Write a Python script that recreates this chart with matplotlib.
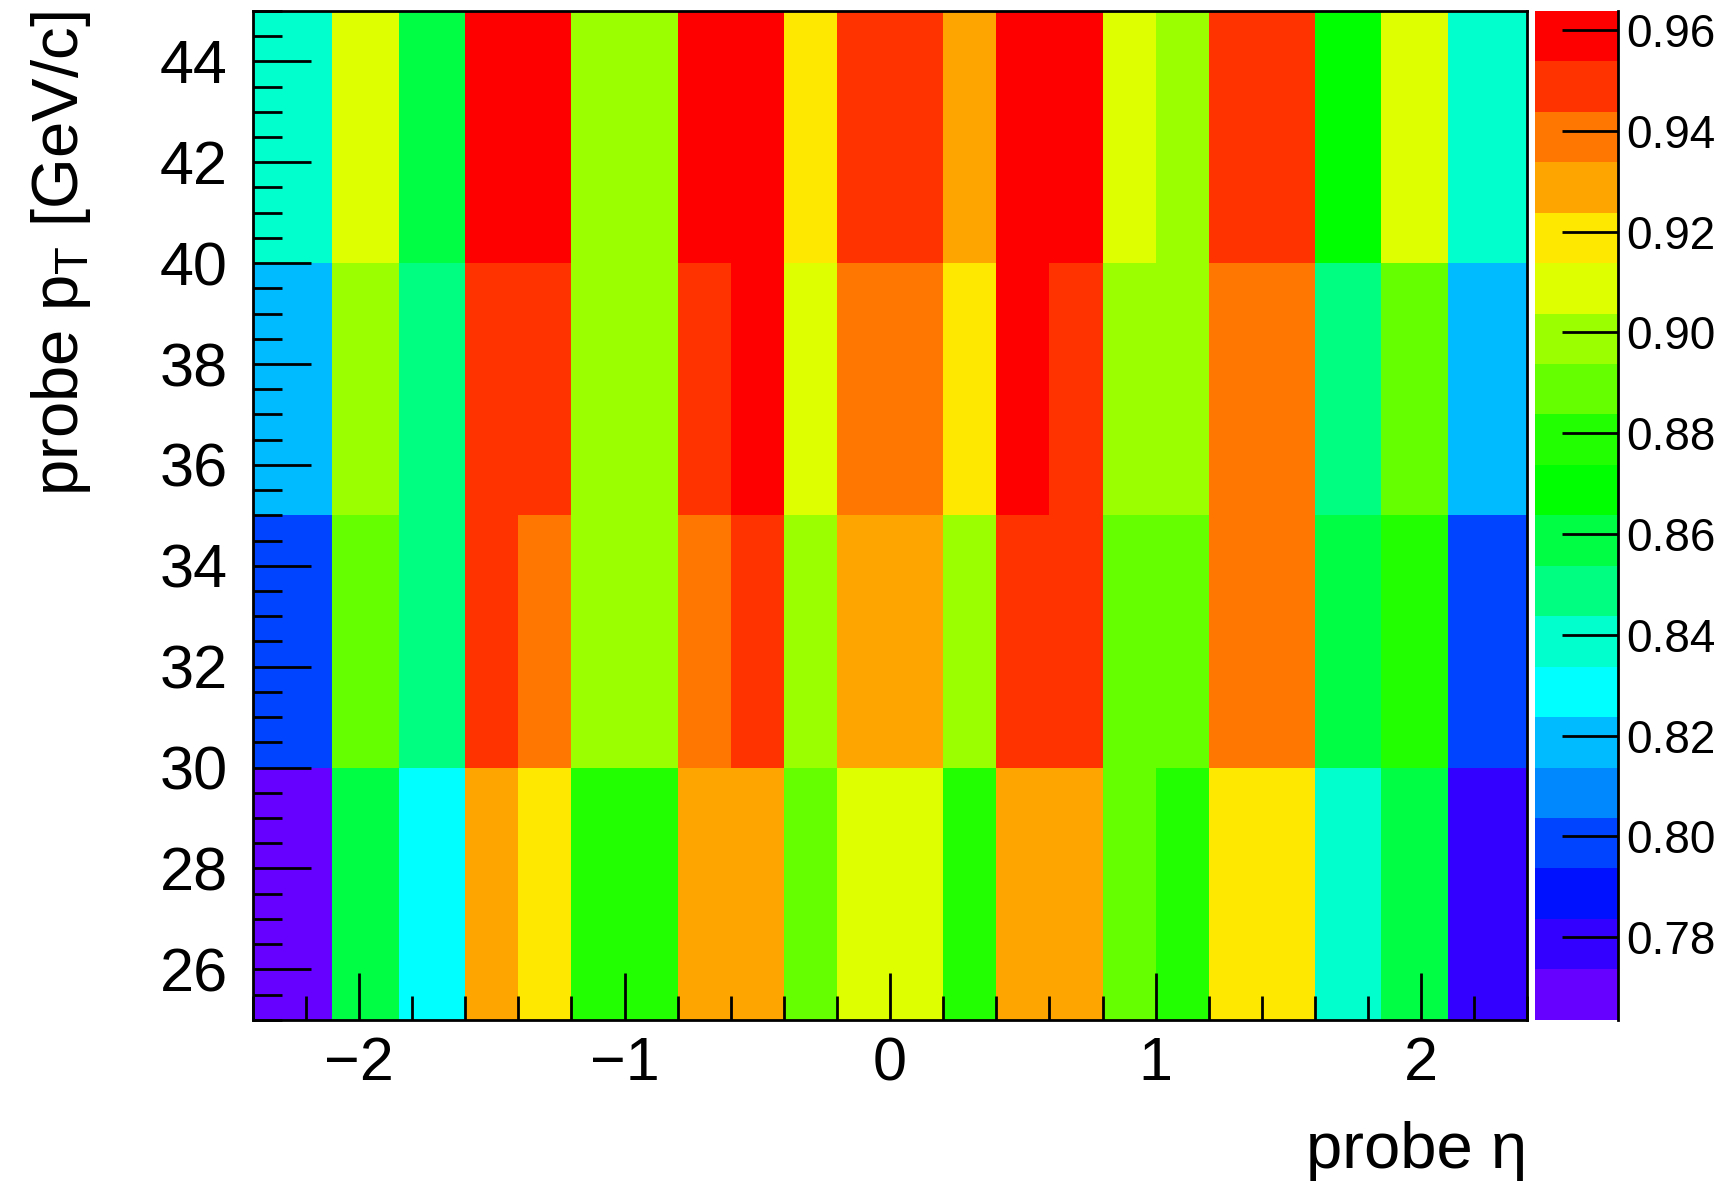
import matplotlib
matplotlib.use('Agg')
import matplotlib.pyplot as plt
import numpy as np
from matplotlib.colors import ListedColormap, BoundaryNorm

plt.rcParams['font.family'] = ['Liberation Sans', 'DejaVu Sans']
plt.rcParams['mathtext.fontset'] = 'custom'
plt.rcParams['mathtext.rm'] = 'Liberation Sans'
plt.rcParams['mathtext.it'] = 'Liberation Sans'

# bin edges
eta_edges = [-2.4, -2.1, -1.85, -1.6, -1.4, -1.2, -0.8, -0.6, -0.4, -0.2,
             0.2, 0.4, 0.6, 0.8, 1.0, 1.2, 1.6, 1.85, 2.1, 2.4]
pt_edges = [25, 30, 35, 40, 45]

# efficiency per (pt row, eta column), rows from low to high pt
eff_pt25 = [0.769, 0.859, 0.829, 0.929, 0.919, 0.879, 0.929, 0.929, 0.889, 0.909,
            0.879, 0.929, 0.929, 0.889, 0.879, 0.919, 0.839, 0.859, 0.779]
eff_pt30 = [0.799, 0.889, 0.849, 0.949, 0.939, 0.899, 0.939, 0.949, 0.899, 0.929,
            0.899, 0.949, 0.949, 0.889, 0.889, 0.939, 0.859, 0.879, 0.799]
eff_pt35 = [0.819, 0.899, 0.849, 0.949, 0.949, 0.899, 0.949, 0.959, 0.909, 0.939,
            0.919, 0.959, 0.949, 0.899, 0.899, 0.939, 0.849, 0.889, 0.819]
eff_pt40 = [0.839, 0.909, 0.859, 0.959, 0.959, 0.899, 0.959, 0.959, 0.919, 0.949,
            0.929, 0.959, 0.959, 0.909, 0.899, 0.949, 0.869, 0.909, 0.839]

z_min, z_max = 0.7636, 0.9638

# ROOT-like palette, 20 contours
palette = ['#6600FF', '#3300FF', '#0011FF', '#0044FF', '#0088FF', '#00BBFF',
           '#00FFFF', '#00FFCC', '#00FF80', '#00FF44', '#00FF00', '#22FF00',
           '#66FF00', '#9CFF00', '#DDFF00', '#FFE800', '#FFA500', '#FF7700',
           '#FF3300', '#FF0000']

eff = np.array([eff_pt25, eff_pt30, eff_pt35, eff_pt40])

fig = plt.figure(figsize=(17.23, 11.89), dpi=100)
ax = fig.add_axes([0.1467, 0.1423, 0.7398, 0.8485])

cmap = ListedColormap(palette)
norm = BoundaryNorm(np.linspace(z_min, z_max, 21), 20)
mesh = ax.pcolormesh(eta_edges, pt_edges, eff, cmap=cmap, norm=norm)

ax.set_xlim(-2.4, 2.4)
ax.set_ylim(25, 45)
ax.set_xticks([-2, -1, 0, 1, 2])
ax.set_xticklabels(['\u22122', '\u22121', '0', '1', '2'])
ax.set_xticks(np.arange(-2.4, 2.41, 0.2), minor=True)
ax.set_yticks(np.arange(26, 45, 2))
ax.set_yticks(np.arange(25, 45.01, 0.5), minor=True)
ax.tick_params(axis='both', which='major', direction='in', labelsize=44, width=2)
ax.tick_params(axis='x', which='major', length=34, pad=12)
ax.tick_params(axis='x', which='minor', direction='in', length=17, width=2)
ax.tick_params(axis='y', which='major', length=42, pad=18)
ax.tick_params(axis='y', which='minor', direction='in', length=21, width=2)
for s in ax.spines.values():
    s.set_linewidth(2)

ax.set_xlabel('probe \u03b7', fontsize=47, loc='right', labelpad=20)
ax.set_ylabel(r'probe p$_{\mathrm{T}}$ [GeV/c]', fontsize=47, loc='top', labelpad=48)

cax = fig.add_axes([0.891, 0.1423, 0.0478, 0.8485])
cb = fig.colorbar(mesh, cax=cax, ticks=np.arange(0.78, 0.961, 0.02), format='%.2f')
cb.outline.set_visible(False)
cax.axvline(1.0, color='black', lw=2, clip_on=False)
cax.tick_params(direction='in', length=40, width=2, labelsize=33, pad=6)
cax.minorticks_off()

fig.savefig('out.png', dpi=100)
